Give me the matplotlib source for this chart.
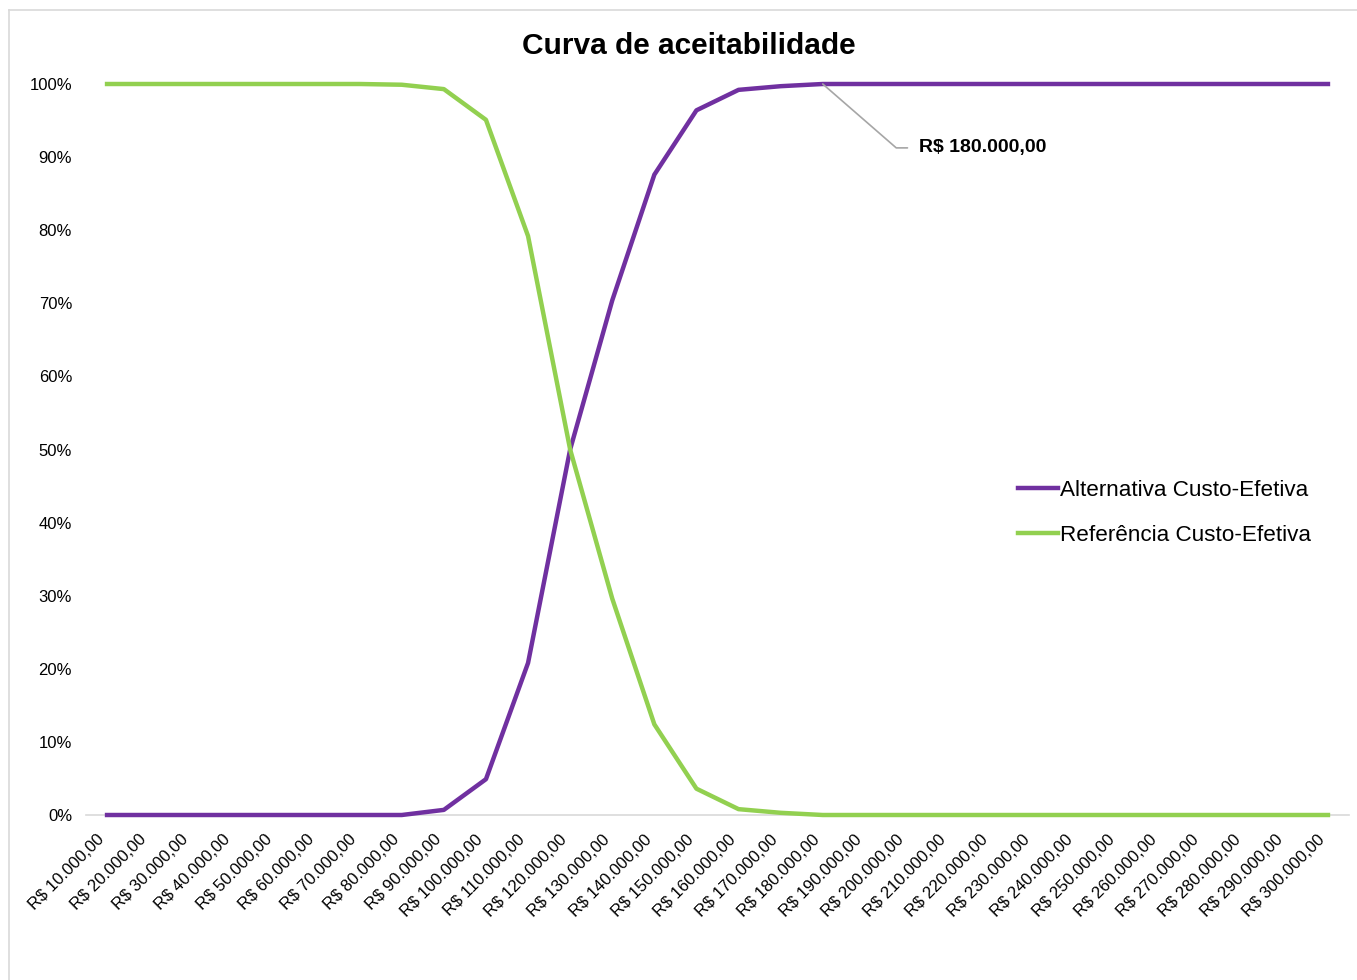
import matplotlib
matplotlib.use("Agg")
import matplotlib.pyplot as plt
from matplotlib.ticker import PercentFormatter

plt.rcParams['font.family'] = ['Liberation Sans', 'DejaVu Sans']

# limiar de disposição a pagar (R$)
limiares = [f"R$ {v:,}.00".replace(",", "X").replace(".", ",").replace("X", ".")
            for v in range(10000, 300001, 10000)]

alternativa = [0.0, 0.0, 0.0, 0.0, 0.0, 0.0, 0.0, 0.0, 0.007, 0.049,
               0.208, 0.50, 0.704, 0.876, 0.964, 0.992, 0.997, 1.0, 1.0, 1.0,
               1.0, 1.0, 1.0, 1.0, 1.0, 1.0, 1.0, 1.0, 1.0, 1.0]
referencia = [1.0, 1.0, 1.0, 1.0, 1.0, 1.0, 1.0, 0.999, 0.993, 0.951,
              0.792, 0.50, 0.296, 0.124, 0.036, 0.008, 0.003, 0.0, 0.0, 0.0,
              0.0, 0.0, 0.0, 0.0, 0.0, 0.0, 0.0, 0.0, 0.0, 0.0]

idx_destaque = 17  # R$ 180.000,00

fig = plt.figure(figsize=(13.57, 9.8), dpi=100)
ax = fig.add_axes([86 / 1357, 1 - 815 / 980, (1349 - 86) / 1357, (815 - 84) / 980])

x = list(range(len(limiares)))
ax.plot(x, alternativa, color="#7030A0", lw=3.2, label="Alternativa Custo-Efetiva",
        clip_on=False, solid_joinstyle="round", zorder=3)
ax.plot(x, referencia, color="#92D050", lw=3.2, label="Referência Custo-Efetiva",
        clip_on=False, solid_joinstyle="round", zorder=3)

ax.set_xlim(-0.5, len(limiares) - 0.5)
ax.set_ylim(0, 1)
ax.set_yticks([i / 10 for i in range(11)])
ax.yaxis.set_major_formatter(PercentFormatter(1.0, decimals=0))
ax.set_xticks(x)
ax.set_xticklabels(limiares, rotation=45, ha="right", va="top")

ax.tick_params(axis="both", length=0, labelsize=12, colors="#000000")
ax.tick_params(axis="y", pad=10)
ax.tick_params(axis="x", pad=12)

for s in ["top", "right", "left"]:
    ax.spines[s].set_visible(False)
ax.spines["bottom"].set_color("#D9D9D9")
ax.spines["bottom"].set_linewidth(1.2)

ax.annotate(limiares[idx_destaque], xy=(idx_destaque, alternativa[idx_destaque]),
            xytext=(69, -46), textcoords="offset points", ha="left", va="center",
            fontsize=14, fontweight="bold",
            arrowprops=dict(arrowstyle="-", color="#A6A6A6", lw=1.2,
                            connectionstyle="angle,angleA=0,angleB=-41,rad=0",
                            relpos=(0, 0.5), shrinkA=6, shrinkB=0))

fig.text(689 / 1357, 1 - 46 / 980, "Curva de aceitabilidade", ha="center", va="center",
         fontsize=21.5, fontweight="bold")

fig.legend(loc="center left", bbox_to_anchor=(1007 / 1357, 1 - 513 / 980), frameon=False,
           fontsize=16.2, handlelength=1.77, handletextpad=0.1, borderpad=0,
           labelspacing=1.05)

# moldura da área do gráfico
fig.add_artist(plt.Line2D([9 / 1357, 9 / 1357], [0, 1 - 10 / 980], color="#D9D9D9", lw=1.2))
fig.add_artist(plt.Line2D([9 / 1357, 1], [1 - 10 / 980, 1 - 10 / 980], color="#D9D9D9", lw=1.2))

fig.savefig("out.png", dpi=100)
